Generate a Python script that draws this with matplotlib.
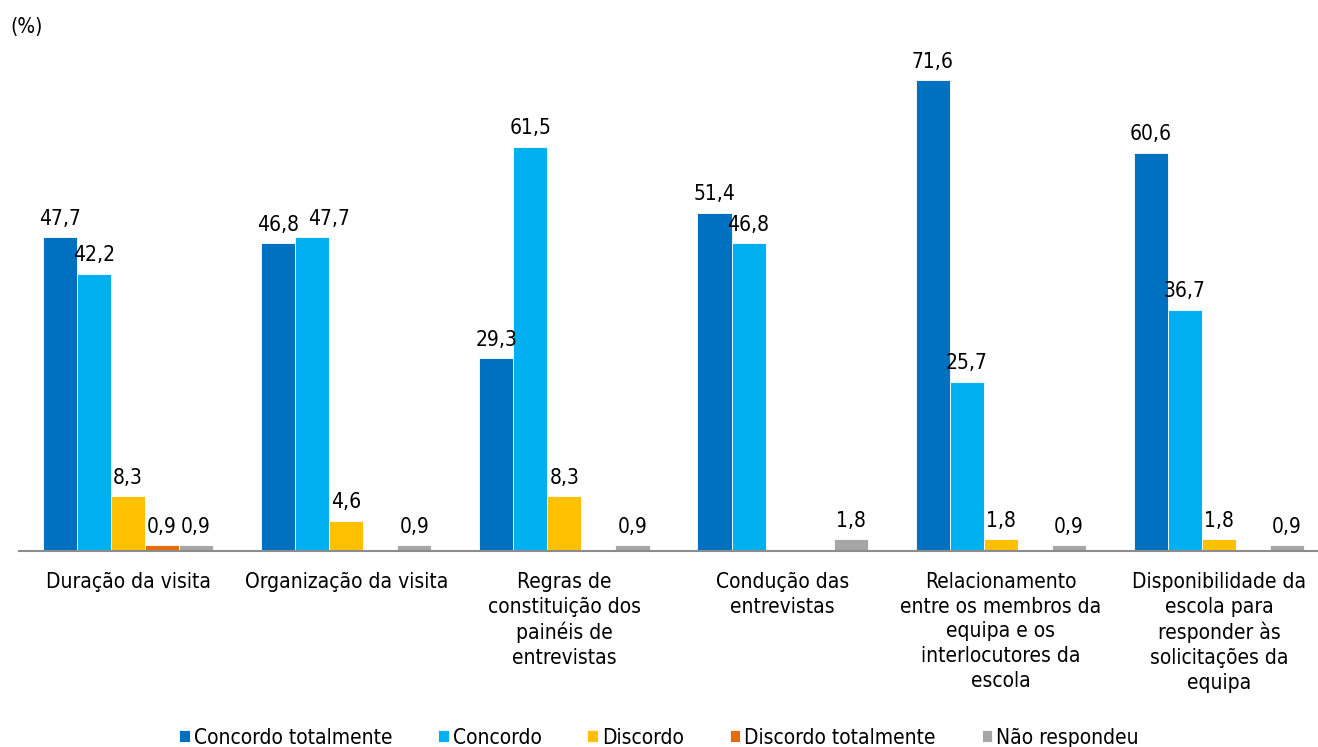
import numpy as np
import matplotlib.pyplot as plt

plt.rcParams['font.family'] = ['DejaVu Sans']
plt.rcParams['font.stretch'] = 'condensed'

categorias = ['Duração da visita',
              'Organização da visita',
              'Regras de\nconstituição dos\npainéis de\nentrevistas',
              'Condução das\nentrevistas',
              'Relacionamento\nentre os membros da\nequipa e os\ninterlocutores da\nescola',
              'Disponibilidade da\nescola para\nresponder às\nsolicitações da\nequipa']
series = ['Concordo totalmente', 'Concordo', 'Discordo', 'Discordo totalmente', 'Não respondeu']
concordo_tot = [47.7, 46.8, 29.3, 51.4, 71.6, 60.6]
concordo = [42.2, 47.7, 61.5, 46.8, 25.7, 36.7]
discordo = [8.3, 4.6, 8.3, 0, 1.8, 1.8]
discordo_tot = [0.9, 0, 0, 0, 0, 0]
nao_resp = [0.9, 0.9, 0.9, 1.8, 0.9, 0.9]
cores = ['#0070C0', '#00B0F0', '#FFC000', '#E46C0A', '#A6A6A6']

valores = [concordo_tot, concordo, discordo, discordo_tot, nao_resp]

fig = plt.figure(figsize=(13.18, 7.47), dpi=100)
ax = fig.add_axes([19/1318, 1-551/747, 1309/1318, 526/747])

x = np.arange(len(categorias))
w = 0.156
fs = 15
for i, (nome, v, c) in enumerate(zip(series, valores, cores)):
    pos = x + (i - 2) * w
    bars = ax.bar(pos, v, w, color=c, label=nome, edgecolor='white', linewidth=0.6)
    for j, (b, val) in enumerate(zip(bars, v)):
        if val > 0:
            xt = b.get_x() + b.get_width()/2
            # rótulo deslocado como no original (evita sobreposição)
            if i == 1 and j == 1:
                xt += 0.075
            ax.text(xt, val + 1.3, ('%.1f' % val).replace('.', ','),
                    ha='center', va='bottom', fontsize=fs)

ax.set_xlim(-0.5, 5.5)
ax.set_ylim(0, 80)
ax.set_yticks([])
ax.set_xticks(x)
ax.set_xticklabels(categorias, fontsize=fs, linespacing=1.3, va='top')
ax.tick_params(axis='x', length=0, pad=15)
for s in ['top', 'right', 'left']:
    ax.spines[s].set_visible(False)
ax.spines['bottom'].set_color('#8C8C8C')
ax.spines['bottom'].set_linewidth(1.5)

fig.text(10/1318, 1-27/747, '(%)', fontsize=fs, va='center', ha='left')

fig.legend(loc='lower center', bbox_to_anchor=(0.5, -0.026), ncol=5, frameon=False,
           fontsize=fs, handlelength=0.5, handleheight=0.5, handletextpad=0.2,
           columnspacing=2.2)

fig.savefig('out.png', dpi=100)
